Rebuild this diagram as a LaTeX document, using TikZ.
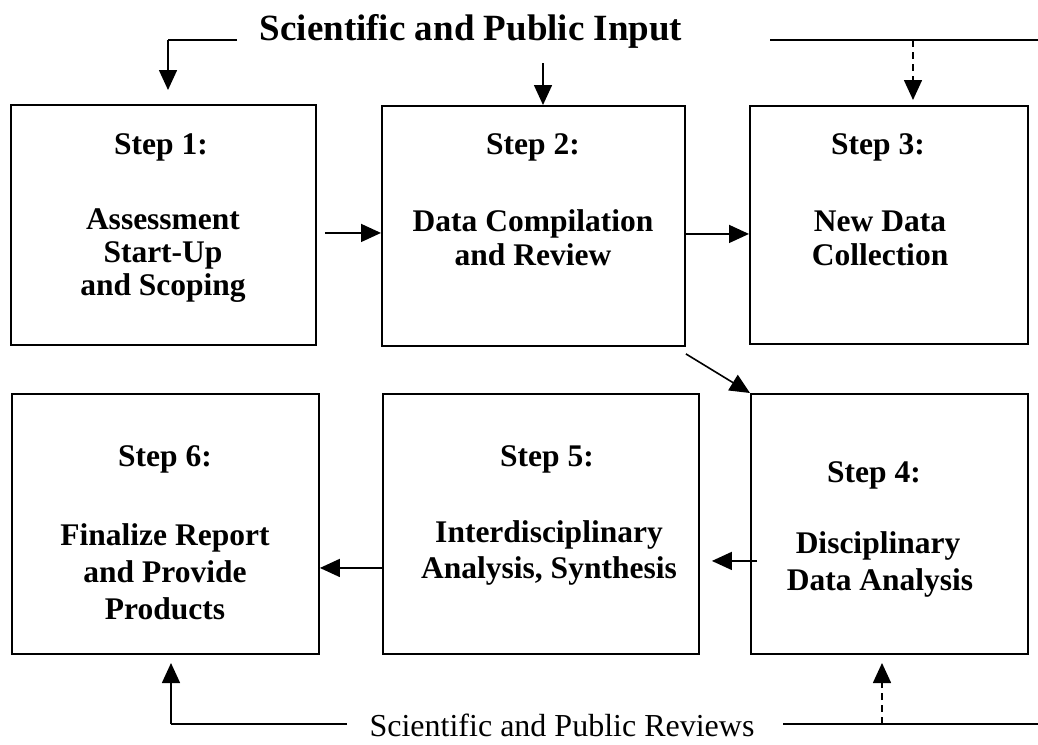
\documentclass[tikz,border=0pt]{standalone}
\usepackage{fontspec}
\setmainfont{Liberation Serif}
\usetikzlibrary{arrows.meta,calc}
\begin{document}
\begin{tikzpicture}[x=1pt,y=-1pt,
  stepbox/.style={draw,line width=1.9pt,inner sep=0pt,anchor=north west},
  lbl/.style={font=\fontsize{31.5}{36}\selectfont\bfseries,inner sep=0pt,anchor=base},
  title/.style={font=\fontsize{37}{40}\selectfont\bfseries,inner sep=0pt,anchor=base},
  reviews/.style={font=\fontsize{32}{36}\selectfont,inner sep=0pt,anchor=base},
  arr/.style={line width=1.6pt,-{Triangle[length=20pt,width=18pt]}},
  plain/.style={line width=1.6pt},
  dashline/.style={dash pattern=on 7pt off 5pt}
]
\useasboundingbox (0,0) rectangle (1038,744);
% boxes
\node[stepbox,minimum width=305pt,minimum height=240pt] (box1) at (10,104) {};
\node[stepbox,minimum width=303pt,minimum height=240pt] (box2) at (381,105) {};
\node[stepbox,minimum width=278pt,minimum height=238pt] (box3) at (749,105) {};
\node[stepbox,minimum width=277pt,minimum height=260pt] (box4) at (750,393) {};
\node[stepbox,minimum width=316pt,minimum height=260pt] (box5) at (382,393) {};
\node[stepbox,minimum width=307pt,minimum height=260pt] (box6) at (11,393) {};
% texts
\node[lbl] (t1a) at (161,154) {Step 1:};
\node[lbl] (t1b) at (163,229) {Assessment};
\node[lbl] (t1c) at (163,262) {Start-Up};
\node[lbl] (t1d) at (163,295) {and Scoping};
\node[lbl] (t2a) at (533,154) {Step 2:};
\node[lbl] (t2b) at (533,231) {Data Compilation};
\node[lbl] (t2c) at (533,265) {and Review};
\node[lbl] (t3a) at (878,154) {Step 3:};
\node[lbl] (t3b) at (880,231) {New Data};
\node[lbl] (t3c) at (880,265) {Collection};
\node[lbl] (t4a) at (874,482) {Step 4:};
\node[lbl] (t4b) at (878,553) {Disciplinary};
\node[lbl] (t4c) at (880,590) {Data Analysis};
\node[lbl] (t5a) at (547,466) {Step 5:};
\node[lbl] (t5b) at (549,542) {Interdisciplinary};
\node[lbl] (t5c) at (549,578) {Analysis, Synthesis};
\node[lbl] (t6a) at (165,466) {Step 6:};
\node[lbl] (t6b) at (165,545) {Finalize Report};
\node[lbl] (t6c) at (165,582) {and Provide};
\node[lbl] (t6d) at (165,619) {Products};
\node[title] (input) at (471,40) {Scientific and Public Input};
\node[reviews] (rev) at (562,736) {Scientific and Public Reviews};
% free ends
\coordinate (inL) at (237,40);
\coordinate (inLc) at (168,40);
\coordinate (inLt) at (168,90);
\coordinate (inM) at (543,63);
\coordinate (inR) at (770,40);
\coordinate (inRe) at (1038,40);
\coordinate (inD) at (913,40);
\coordinate (inDt) at (913,100);
\coordinate (rvL) at (347,724);
\coordinate (rvLc) at (171,724);
\coordinate (rvLt) at (171,663);
\coordinate (rvR) at (783,724);
\coordinate (rvRe) at (1038,724);
\coordinate (rvD) at (882,724);
\coordinate (rvDt) at (882,663);
\coordinate (s12) at ($(box1.east)+(8,8)$);
\coordinate (s23) at ($(box2.east)+(0,8)$);
\coordinate (s24) at ($(box2.south east)+(0,7)$);
\coordinate (s45) at ($(box4.west)+(7,37)$);
\coordinate (s45t) at ($(box5.east)+(12,37)$);
\coordinate (s56) at ($(box5.west)+(0,44)$);
% top input connectors
\draw[plain] (inL) -- (inLc);
\draw[arr] (inLc) -- (inLt);
\draw[arr] (inM) -- (inM |- box2.north);
\draw[plain] (inR) -- (inRe);
\draw[arr,dashline] (inD) -- (inDt);
% step connectors
\draw[arr] (s12) -- (s12 -| box2.west);
\draw[arr] (s23) -- (s23 -| box3.west);
\draw[arr] (s24) -- (box4.north west);
\draw[arr] (s45) -- (s45t);
\draw[arr] (s56) -- (s56 -| box6.east);
% bottom review connectors
\draw[plain] (rvL) -- (rvLc);
\draw[arr] (rvLc) -- (rvLt);
\draw[plain] (rvR) -- (rvRe);
\draw[arr,dashline] (rvD) -- (rvDt);
\end{tikzpicture}
\end{document}
